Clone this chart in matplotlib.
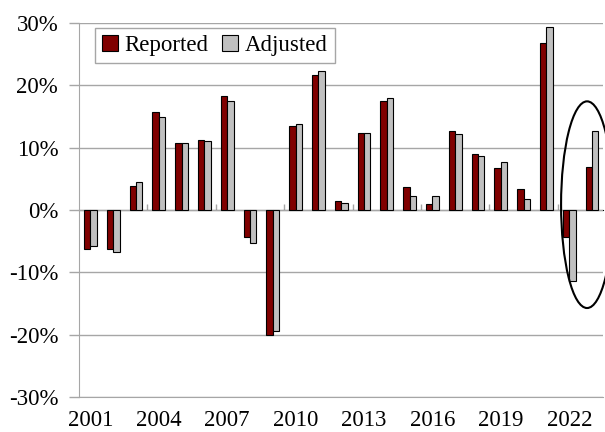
import numpy as np
import matplotlib
matplotlib.use("Agg")
import matplotlib.pyplot as plt
from matplotlib.patches import Ellipse

years = list(range(2001, 2024))
reported = [-6.3, -6.2, 3.8, 15.7, 10.7, 11.2, 18.3, -4.3, -20.1, 13.4, 21.6, 1.4,
            12.4, 17.4, 3.7, 1.0, 12.6, 8.9, 6.7, 3.3, 26.8, -4.4, 6.9]
adjusted = [-5.7, -6.7, 4.5, 14.9, 10.8, 11.1, 17.4, -5.3, -19.3, 13.8, 22.3, 1.2,
            12.4, 17.9, 2.2, 2.3, 12.2, 8.7, 7.7, 1.8, 29.3, -11.3, 12.7]
label_years = years[::3]
y_ticks = [-30, -20, -10, 0, 10, 20, 30]

plt.rcParams["font.family"] = ["Liberation Serif", "DejaVu Serif"]
plt.rcParams["font.size"] = 16.5

grid_c = "#a6a6a6"

fig = plt.figure(figsize=(6.05, 4.32), dpi=100)
ax = fig.add_axes([0.1306, 0.0803, 0.8669, 0.8672])

x = np.arange(len(years))
w = 0.28
ax.bar(x - w / 2, reported, width=w, color="#800000", edgecolor="black",
       linewidth=0.8, label="Reported", zorder=3)
ax.bar(x + w / 2, adjusted, width=w, color="#c0c0c0", edgecolor="black",
       linewidth=0.8, label="Adjusted", zorder=3)

ax.set_xlim(-0.5, len(years) - 0.5)
ax.set_ylim(-30, 30)
ax.set_yticks(y_ticks)
ax.set_yticklabels([f"{v}%" for v in y_ticks])
ax.yaxis.grid(True, color=grid_c, linewidth=1)
ax.set_axisbelow(True)
ax.tick_params(axis="y", length=7, color=grid_c, width=1, pad=8)

ax.set_xticks([years.index(y) for y in label_years])
ax.set_xticklabels([str(y) for y in label_years])
ax.tick_params(axis="x", length=0, pad=9)

for s in ["top", "right"]:
    ax.spines[s].set_visible(False)
ax.spines["left"].set_color(grid_c)
ax.spines["bottom"].set_color(grid_c)

# zero line with tick marks between groups of three years
sec = ax.secondary_xaxis(0.5)
sec.set_xticks(np.arange(2.5, len(years) - 1, 3))
sec.set_xticklabels([])
sec.tick_params(length=4, color=grid_c, width=1)
sec.spines["bottom"].set_color(grid_c)

ax.legend(loc="upper left", bbox_to_anchor=(0.03, 0.985), borderaxespad=0,
          ncol=2, handlelength=0.7, handleheight=0.7, handletextpad=0.3,
          columnspacing=0.6, fancybox=False, edgecolor=grid_c, framealpha=1,
          borderpad=0.3)

ell = Ellipse((21.78, 0.85), width=2.28, height=33.1, fill=False,
              edgecolor="black", linewidth=1.5, clip_on=False, zorder=4)
ax.add_patch(ell)

fig.savefig("out.png", dpi=100)
